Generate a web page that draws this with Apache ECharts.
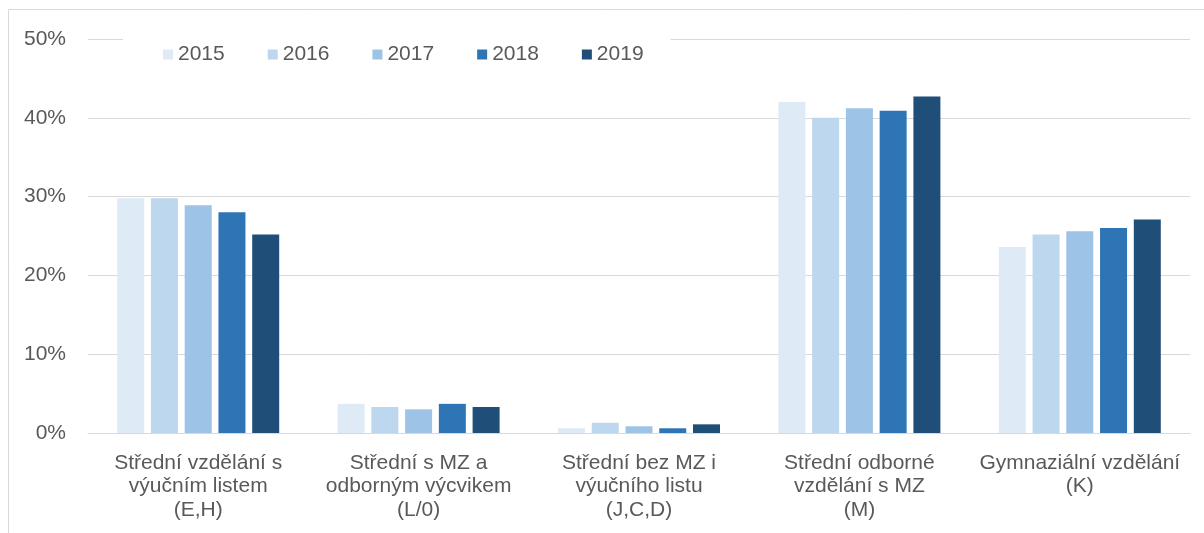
<!DOCTYPE html>
<html>
<head>
<meta charset="utf-8">
<script src="https://cdn.jsdelivr.net/npm/echarts@6/dist/echarts.min.js"></script>
<style>
  html, body { margin: 0; padding: 0; background: #fff; }
  #chart { width: 1204px; height: 533px; }
</style>
</head>
<body>
<div id="chart"></div>
<script>
// categories (x axis)
const categories = [
  "Střední vzdělání s\nvýučním listem\n(E,H)",
  "Střední s MZ a\nodborným výcvikem\n(L/0)",
  "Střední bez MZ i\nvýučního listu\n(J,C,D)",
  "Střední odborné\nvzdělání s MZ\n(M)",
  "Gymnaziální vzdělání\n(K)"
]
const years = ["2015", "2016", "2017", "2018", "2019"]

// values in %
const v2015 = [29.8, 3.7, 0.6, 42.0, 23.6]
const v2016 = [29.8, 3.3, 1.3, 40.0, 25.2]
const v2017 = [28.9, 3.0, 0.85, 41.2, 25.6]
const v2018 = [28.0, 3.7, 0.6, 40.9, 26.0]
const v2019 = [25.2, 3.3, 1.1, 42.7, 27.1]
const seriesValues = [v2015, v2016, v2017, v2018, v2019]

const yTicks = [0, 10, 20, 30, 40, 50]

const colors = ["#DEEBF7", "#BDD7EE", "#9DC3E6", "#2E75B6", "#1F4E79"]
const textColor = "#595959"
const font = "Liberation Sans, Arial, sans-serif"

const chartBox = echarts.init(document.getElementById("chart"))
const options = {
  animation: false,
  color: colors,
  textStyle: { fontFamily: font },
  graphic: [
    {
      // outer frame of the original figure
      type: "rect",
      z: -10,
      shape: { x: 8.5, y: 9.5, width: 1400, height: 800 },
      style: { fill: null, stroke: "#d9d9d9", lineWidth: 1 }
    }
  ],
  legend: {
    data: years,
    left: 123,
    top: 32,
    padding: [12, 27, 12, 40],
    backgroundColor: "#fff",
    itemWidth: 10,
    itemHeight: 10,
    itemGap: 43,
    icon: "rect",
    z: 5,
    textStyle: { color: textColor, fontSize: 21, fontFamily: font }
  },
  grid: {
    left: 88,
    right: 14,
    top: 39,
    bottom: 100,
    containLabel: false
  },
  xAxis: {
    type: "category",
    data: categories,
    axisLine: { lineStyle: { color: "#d9d9d9", width: 1 } },
    axisTick: { show: false },
    axisLabel: {
      color: textColor,
      fontSize: 21,
      lineHeight: 23.5,
      margin: 18,
      interval: 0,
      fontFamily: font
    }
  },
  yAxis: {
    type: "value",
    min: yTicks[0],
    max: yTicks[yTicks.length - 1],
    interval: 10,
    axisLine: { show: false },
    axisTick: { show: false },
    splitLine: { lineStyle: { color: "#d9d9d9", width: 1 } },
    axisLabel: {
      color: textColor,
      fontSize: 21,
      margin: 22,
      fontFamily: font,
      formatter: "{value}%"
    }
  },
  series: years.map((y, i) => ({
    name: y,
    type: "bar",
    data: seriesValues[i],
    barWidth: 27,
    barGap: "25%",
    itemStyle: { color: colors[i] }
  }))
}
chartBox.setOption(options)
</script>
</body>
</html>
